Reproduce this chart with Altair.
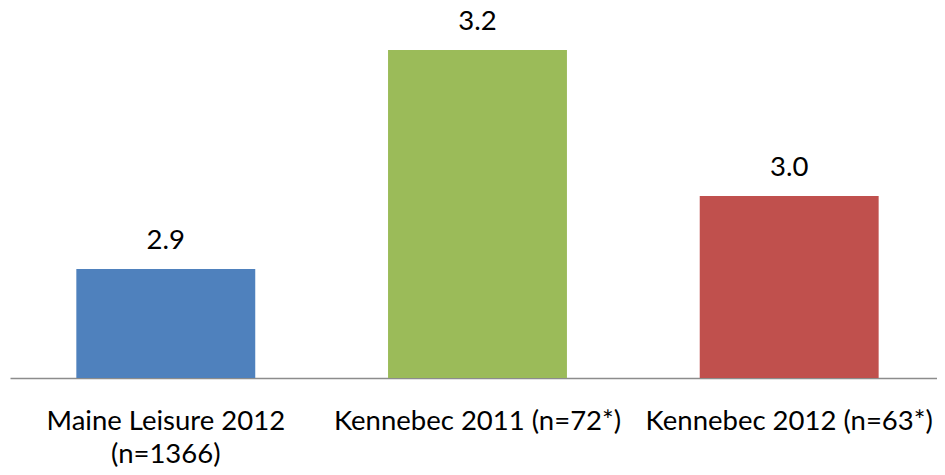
import altair as alt
import pandas as pd

categories = ["Maine Leisure 2012\n(n=1366)", "Kennebec 2011 (n=72*)", "Kennebec 2012 (n=63*)"]
values = [2.9, 3.2, 3.0]
colors = ["#4F81BD", "#9BBB59", "#C0504D"]
y_min = 2.7507
y_max = 3.2575

df = pd.DataFrame({"cat": categories, "val": values, "color": colors, "base": [y_min] * 3})

x = alt.X("cat:N", sort=categories, title=None,
          scale=alt.Scale(paddingInner=0.426, paddingOuter=0.2, align=0.532),
          axis=alt.Axis(labelAngle=0, ticks=False, tickSize=0, domainColor="#8c8c8c", domainWidth=1.5,
                        labelFont="Lato", labelFontSize=27.5, labelColor="#000000",
                        labelPadding=51, labelBaseline="alphabetic", labelLineHeight=33,
                        labelOverlap=False, labelLimit=0, labelBound=False, labelFlush=False,
                        labelExpr="split(datum.label, '\\n')"))
y = alt.Y("val:Q", scale=alt.Scale(domain=[y_min, y_max], zero=False, nice=False), axis=None)

bars = alt.Chart(df).mark_bar().encode(
    x=x, y=y, y2="base:Q", color=alt.Color("color:N", scale=None)
)
labels = alt.Chart(df).mark_text(font="Lato", fontSize=27.5, baseline="alphabetic", dy=-20, color="#000000").encode(
    x=x, y=y, text=alt.Text("val:Q", format=".1f")
)

chart = (bars + labels).properties(
    width=927, height=370,
    background="white",
    autosize=alt.AutoSizeParams(type="none"),
    padding={"left": 2, "top": 0, "right": 0, "bottom": 89},
).configure_view(strokeWidth=0, stroke=None)

chart.save("out.html", embed_options={"renderer": "svg", "actions": False})
